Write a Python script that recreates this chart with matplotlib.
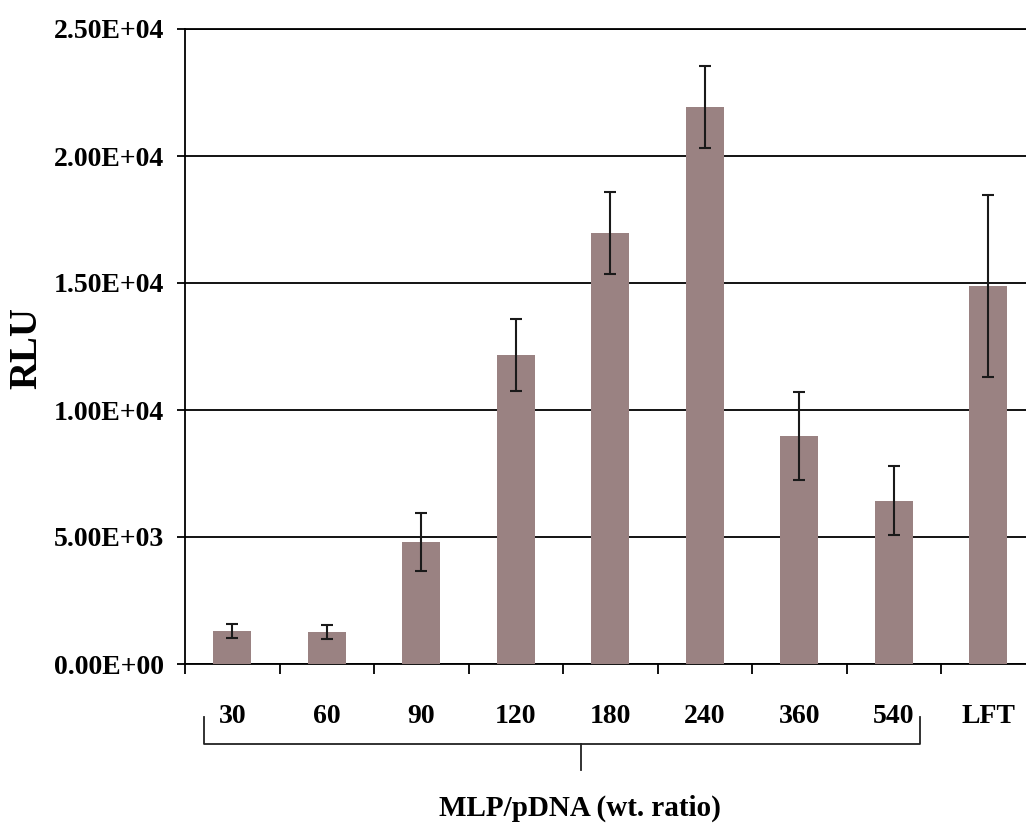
import matplotlib
matplotlib.use('Agg')
import matplotlib.pyplot as plt
from matplotlib.ticker import FixedLocator, FuncFormatter
from matplotlib.transforms import blended_transform_factory


categories = ['30', '60', '90', '120', '180', '240', '360', '540', 'LFT']
rlu = [1300, 1260, 4800, 12170, 16970, 21930, 8980, 6420, 14880]
rlu_err = [270, 280, 1140, 1420, 1630, 1600, 1730, 1360, 3600]
y_ticks = [0, 5000, 10000, 15000, 20000, 25000]
bracket_label = 'MLP/pDNA (wt. ratio)'


def main():
    plt.rcParams['font.family'] = ['Liberation Serif', 'DejaVu Serif']
    plt.rcParams['font.weight'] = 'bold'

    fig = plt.figure(figsize=(10.26, 8.30), dpi=100)
    ax = fig.add_axes([185 / 1026, 166 / 830, 9 * 94.5 / 1026, 635 / 830])

    x = list(range(len(categories)))
    ax.bar(x, rlu, width=0.4, color='#9a8282', zorder=3)
    ax.errorbar(x, rlu, yerr=rlu_err, fmt='none', ecolor='#1a1a1a',
                elinewidth=1.5, capsize=4, capthick=1.5, zorder=4)

    ax.set_xlim(-0.5, len(categories) - 0.5)
    ax.set_ylim(0, 25000)
    ax.yaxis.set_major_locator(FixedLocator(y_ticks))
    ax.yaxis.set_major_formatter(FuncFormatter(lambda v, p: '%.2E' % v))
    ax.grid(axis='y', color='black', linewidth=1.3, zorder=1)

    ax.set_xticks(x)
    ax.set_xticklabels(categories)
    ax.set_xticks([i + 0.5 for i in range(-1, len(categories))], minor=True)
    ax.tick_params(axis='x', which='major', length=0, pad=29, labelsize=20)
    ax.tick_params(axis='x', which='minor', length=7, width=1.3, direction='out')
    ax.tick_params(axis='y', length=6, width=1.3, direction='out', pad=9, labelsize=20)

    ax.spines['right'].set_visible(False)
    for side in ['left', 'bottom', 'top']:
        ax.spines[side].set_linewidth(1.3)

    # y label placed in figure coords so it is not cut at the left edge
    fig.text(27 / 1026, 1 - 348 / 830, 'RLU', rotation=90, ha='center', va='center',
             fontsize=28, fontweight='bold')

    # bracket under the MLP/pDNA ratios
    tr = blended_transform_factory(ax.transData, fig.transFigure)
    y_low, y_high, y_stem = 1 - 744 / 830, 1 - 717 / 830, 1 - 770 / 830
    x_left, x_right, x_stem = -0.30, 7.28, 3.69
    ax.plot([x_left, x_left, x_right, x_right], [y_high, y_low, y_low, y_high],
            color='#222222', linewidth=1.3, transform=tr, clip_on=False)
    ax.plot([x_stem, x_stem], [y_low, y_stem], color='#222222', linewidth=1.3,
            transform=tr, clip_on=False)
    fig.text(580 / 1026, 1 - 808 / 830, bracket_label, ha='center', va='center',
             fontsize=21, fontweight='bold')

    fig.savefig('out.png', dpi=100, facecolor='white')
    plt.close(fig)


if __name__ == '__main__':
    main()
